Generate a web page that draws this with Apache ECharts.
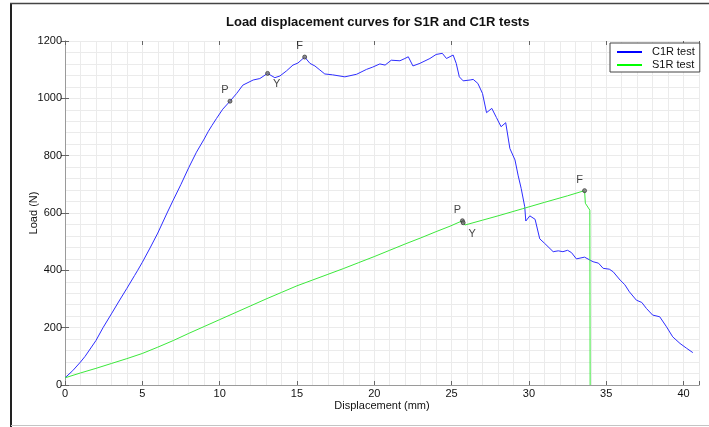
<!DOCTYPE html>
<html>
<head>
<meta charset="utf-8">
<script src="https://cdn.jsdelivr.net/npm/echarts@6/dist/echarts.min.js"></script>
<style>
  html, body { margin: 0; padding: 0; background: #fff; }
  #chart { width: 709px; height: 427px; }
</style>
</head>
<body>
<div id="chart"></div>
<script>
// C1R test (blue)
const c1rX = [0, 0.5, 1.0, 1.3, 2.0, 2.46, 3.0, 3.5, 4.0, 4.5, 4.7, 5.0, 5.5, 6.0, 6.6, 7.0, 7.5, 8.0, 8.5, 9.0,
  9.27, 9.5, 9.8, 10.2, 10.67, 11.1, 11.5, 12.17, 12.6, 13.1, 13.57, 13.9, 14.33, 14.74, 15.06, 15.5, 15.84, 16.16,
  16.48, 16.8, 17.3, 18.1, 18.86, 19.5, 19.9, 20.36, 20.7, 21.1, 21.66, 21.98, 22.2, 22.5, 22.95, 23.6, 24.0,
  24.4, 24.67, 25.1, 25.3, 25.5, 25.75, 26.2, 26.4, 26.7, 27.0, 27.26, 27.6, 27.9, 28.2, 28.5, 28.77, 29.1, 29.3,
  29.5, 29.73, 29.8, 30.06, 30.4, 30.7, 31.0, 31.57, 31.9, 32.2, 32.5, 32.75, 33.07, 33.6, 34.15, 34.5, 34.8,
  35.2, 35.45, 35.9, 36.2, 36.5, 36.95, 37.3, 37.6, 38.0, 38.46, 38.9, 39.3, 39.77, 40.2, 40.6];
const c1rY = [25, 50, 80, 100, 155, 200, 248, 293, 337, 382, 400, 428, 478, 530, 600, 645, 700, 758, 812, 858,
  885, 905, 930, 962, 990, 1017, 1046, 1064, 1069, 1087, 1072, 1078, 1096, 1116, 1123, 1144, 1122, 1113,
  1099, 1085, 1082, 1075, 1084, 1101, 1109, 1120, 1116, 1133, 1131, 1139, 1145, 1113, 1122, 1139, 1153,
  1157, 1139, 1151, 1122, 1075, 1061, 1064, 1066, 1052, 1017, 950, 965, 933, 901, 915, 825, 785, 732,
  686, 622, 572, 590, 578, 510, 495, 465, 468, 465, 470, 462, 440, 446, 430, 425, 407,
  404, 395, 366, 350, 325, 296, 288, 267, 244, 238, 203, 168, 145, 128, 113];

// S1R test (green)
const s1rX = [0, 1, 2, 3, 4, 5, 6, 7, 8, 9, 10, 11, 12, 13, 14, 15, 16, 17, 18, 19, 20, 21, 22, 23, 24, 24.9,
  25.7, 25.86, 27.0, 28.0, 29.6, 31.0, 32.5, 33.6, 33.65, 33.94, 33.96];
const s1rY = [25, 42, 58, 75, 92, 110, 132, 155, 180, 204, 228, 252, 276, 300, 323, 346, 366, 386, 406, 427,
  448, 470, 492, 513, 535, 554, 573, 558, 575, 590, 615, 637, 660, 678, 634, 610, 0];

// proportional limit, yield and failure points
const markNames = ['P', 'Y', 'F'];
const c1rMarkX = [10.67, 13.1, 15.5];
const c1rMarkY = [990, 1087, 1144];
const s1rMarkX = [25.7, 25.75, 33.6];
const s1rMarkY = [573, 566, 678];

const xTicks = [0, 5, 10, 15, 20, 25, 30, 35, 40];
const yTicks = [0, 200, 400, 600, 800, 1000, 1200];

const FONT = 'Liberation Sans';
const AXIS_GRAY = '#9a9a9a';
const GRID_GRAY = '#ebebeb';

const zip = (xs, ys) => xs.map((x, i) => [x, ys[i]]);

const labelPlace = {
  P: { position: 'top', offset: [-5, 2] },
  Y: { position: 'bottom', offset: [9, -2] },
  F: { position: 'top', offset: [-5, 2] }
};

const markData = (xs, ys) =>
  xs.map((x, i) => ({
    value: [x, ys[i]],
    name: markNames[i],
    label: labelPlace[markNames[i]]
  }));

const baseTick = { show: true, inside: true, length: 4, lineStyle: { color: '#666' } };

const chart = echarts.init(document.getElementById('chart'), null, { renderer: 'canvas' });

chart.setOption({
  animation: false,
  backgroundColor: '#fff',
  textStyle: { fontFamily: FONT },
  title: {
    text: 'Load displacement curves for S1R and C1R tests',
    left: 226,
    top: 16,
    padding: 0,
    textStyle: { fontFamily: FONT, fontSize: 13, fontWeight: 'bold', color: '#111' }
  },
  legend: {
    data: ['C1R test', 'S1R test'],
    orient: 'vertical',
    left: 610,
    top: 43,
    padding: [3, 5, 1, 7],
    itemGap: 1,
    itemWidth: 25,
    itemHeight: 2,
    icon: 'rect',
    borderColor: '#444',
    borderWidth: 1,
    borderRadius: 0,
    backgroundColor: '#fff',
    textStyle: { fontFamily: FONT, fontSize: 11, color: '#111', lineHeight: 12, padding: [0, 0, 0, 5] }
  },
  grid: { left: 65, right: 10, top: 41, bottom: 42, outerBoundsMode: 'none' },
  graphic: [
    { type: 'line', shape: { x1: 11, y1: 3, x2: 11, y2: 427 }, style: { stroke: '#222', lineWidth: 2 }, silent: true },
    { type: 'line', shape: { x1: 10, y1: 3.5, x2: 709, y2: 3.5 }, style: { stroke: '#444', lineWidth: 1.5 }, silent: true },
    { type: 'line', shape: { x1: 11, y1: 425.5, x2: 709, y2: 425.5 }, style: { stroke: '#c4c4c4', lineWidth: 1 }, silent: true }
  ],
  xAxis: [
    {
      type: 'value', position: 'bottom', min: 0, max: 41, interval: 5,
      name: 'Displacement (mm)', nameLocation: 'middle', nameGap: 15, nameMoveOverlap: false,
      nameTextStyle: { fontFamily: FONT, fontSize: 11, color: '#111' },
      axisLine: { show: true, lineStyle: { color: AXIS_GRAY } },
      axisTick: baseTick,
      axisLabel: {
        margin: 3, fontSize: 11, color: '#111', fontFamily: FONT,
        formatter: (v) => (xTicks.includes(v) ? String(v) : '')
      },
      splitLine: { show: false }
    },
    {
      // unit grid lines
      type: 'value', position: 'top', min: 0, max: 41, interval: 1,
      axisLine: { show: true, lineStyle: { color: AXIS_GRAY } },
      axisTick: { show: false },
      axisLabel: { show: false },
      splitLine: { show: true, lineStyle: { color: GRID_GRAY, width: 1 } }
    },
    {
      type: 'value', position: 'top', min: 0, max: 41, interval: 5,
      axisLine: { show: false },
      axisTick: baseTick,
      axisLabel: { show: false },
      splitLine: { show: false }
    }
  ],
  yAxis: [
    {
      type: 'value', position: 'left', min: 0, max: 1200, interval: 200,
      name: 'Load (N)', nameLocation: 'middle', nameGap: 26, nameMoveOverlap: false,
      nameTextStyle: { fontFamily: FONT, fontSize: 11, color: '#111' },
      axisLine: { show: true, lineStyle: { color: AXIS_GRAY } },
      axisTick: baseTick,
      axisLabel: {
        margin: 3, fontSize: 11, color: '#111', fontFamily: FONT,
        formatter: (v) => (yTicks.includes(v) ? String(v) : '')
      },
      splitLine: { show: true, lineStyle: { color: GRID_GRAY, width: 1 } },
      minorTick: { show: false },
      minorSplitLine: { show: true, lineStyle: { color: GRID_GRAY, width: 1 } }
    },
    {
      type: 'value', position: 'right', min: 0, max: 1200, interval: 200,
      axisLine: { show: true, lineStyle: { color: AXIS_GRAY } },
      axisTick: baseTick,
      axisLabel: { show: false },
      splitLine: { show: false }
    }
  ],
  series: [
    {
      name: 'C1R test', type: 'line', xAxisIndex: 0, yAxisIndex: 0,
      data: zip(c1rX, c1rY),
      showSymbol: false, smooth: false,
      color: '#0000ff',
      lineStyle: { color: '#2e2eff', width: 1 },
      z: 3
    },
    {
      name: 'S1R test', type: 'line', xAxisIndex: 0, yAxisIndex: 0,
      data: zip(s1rX, s1rY),
      showSymbol: false, smooth: false,
      color: '#00ff00',
      lineStyle: { color: '#3be83b', width: 1 },
      z: 3
    },
    {
      name: 'C1R marks', type: 'scatter', xAxisIndex: 0, yAxisIndex: 0,
      data: markData(c1rMarkX, c1rMarkY),
      symbol: 'circle', symbolSize: 4,
      itemStyle: { color: '#777', borderColor: '#222', borderWidth: 0.8 },
      label: { show: true, formatter: '{b}', fontFamily: FONT, fontSize: 11, color: '#111' },
      z: 4
    },
    {
      name: 'S1R marks', type: 'scatter', xAxisIndex: 0, yAxisIndex: 0,
      data: markData(s1rMarkX, s1rMarkY),
      symbol: 'circle', symbolSize: 4,
      itemStyle: { color: '#777', borderColor: '#222', borderWidth: 0.8 },
      label: { show: true, formatter: '{b}', fontFamily: FONT, fontSize: 11, color: '#111' },
      z: 4
    }
  ]
});
</script>
</body>
</html>
